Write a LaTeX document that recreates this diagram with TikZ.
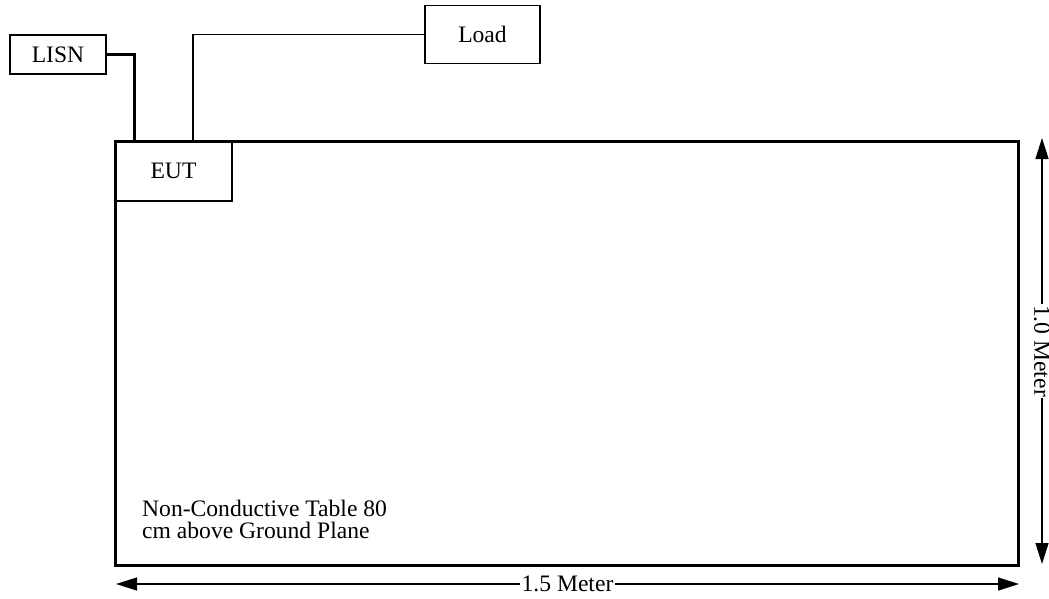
\documentclass[tikz,border=0pt]{standalone}
\usepackage{fontspec}
\setmainfont{Liberation Serif}
\usetikzlibrary{arrows.meta}
\begin{document}
\begin{tikzpicture}[x=1pt,y=-1pt,
  lbl/.style={font=\fontsize{23.6}{22.7}\selectfont},
  box/.style={draw,line width=1.3pt,lbl,inner sep=0pt,outer sep=0pt,anchor=north west},
  thickwire/.style={line width=3pt},
  thinwire/.style={line width=1.3pt},
  dim/.style={line width=1.4pt,{Triangle[length=21pt,width=13pt]}-{Triangle[length=21pt,width=13pt]}},
  dimlbl/.style={lbl,fill=white,inner sep=1.5pt}]
\useasboundingbox (0,0) rectangle (1049,598);
% boxes
\node[box,minimum width=96pt,minimum height=39pt] (lisn) at (10,35) {LISN};
\node[box,minimum width=115pt,minimum height=58pt] (load) at (425,5.5) {Load};
\node[box,minimum width=117pt,minimum height=60pt] (eut) at (115,141) {EUT};
% table
\node[draw,line width=3pt,inner sep=0pt,outer sep=0pt,anchor=north west,minimum width=903pt,minimum height=424pt] (table) at (115,141) {};
\coordinate (lisnin) at (134.5,141);
\coordinate (loadin) at (193,141);
% wires
\draw[thickwire] (lisn.east) -| (lisnin);
\draw[thinwire] (load.west) -| (loadin);
% text
\node[lbl,align=left,anchor=north west,inner sep=0pt] (note) at (142,499.5) {Non-Conductive Table 80\\cm above Ground Plane};
% dimensions
\coordinate (vtop) at (1042,138);
\coordinate (vbot) at (1042,564);
\coordinate (hl) at (116,584);
\coordinate (hr) at (1019,584);
\draw[dim] (vtop) -- (vbot) node[midway,dimlbl,rotate=-90] (vlbl) {1.0 Meter};
\draw[dim] (hl) -- (hr) node[midway,dimlbl] (hlbl) {1.5 Meter};
\end{tikzpicture}
\end{document}
